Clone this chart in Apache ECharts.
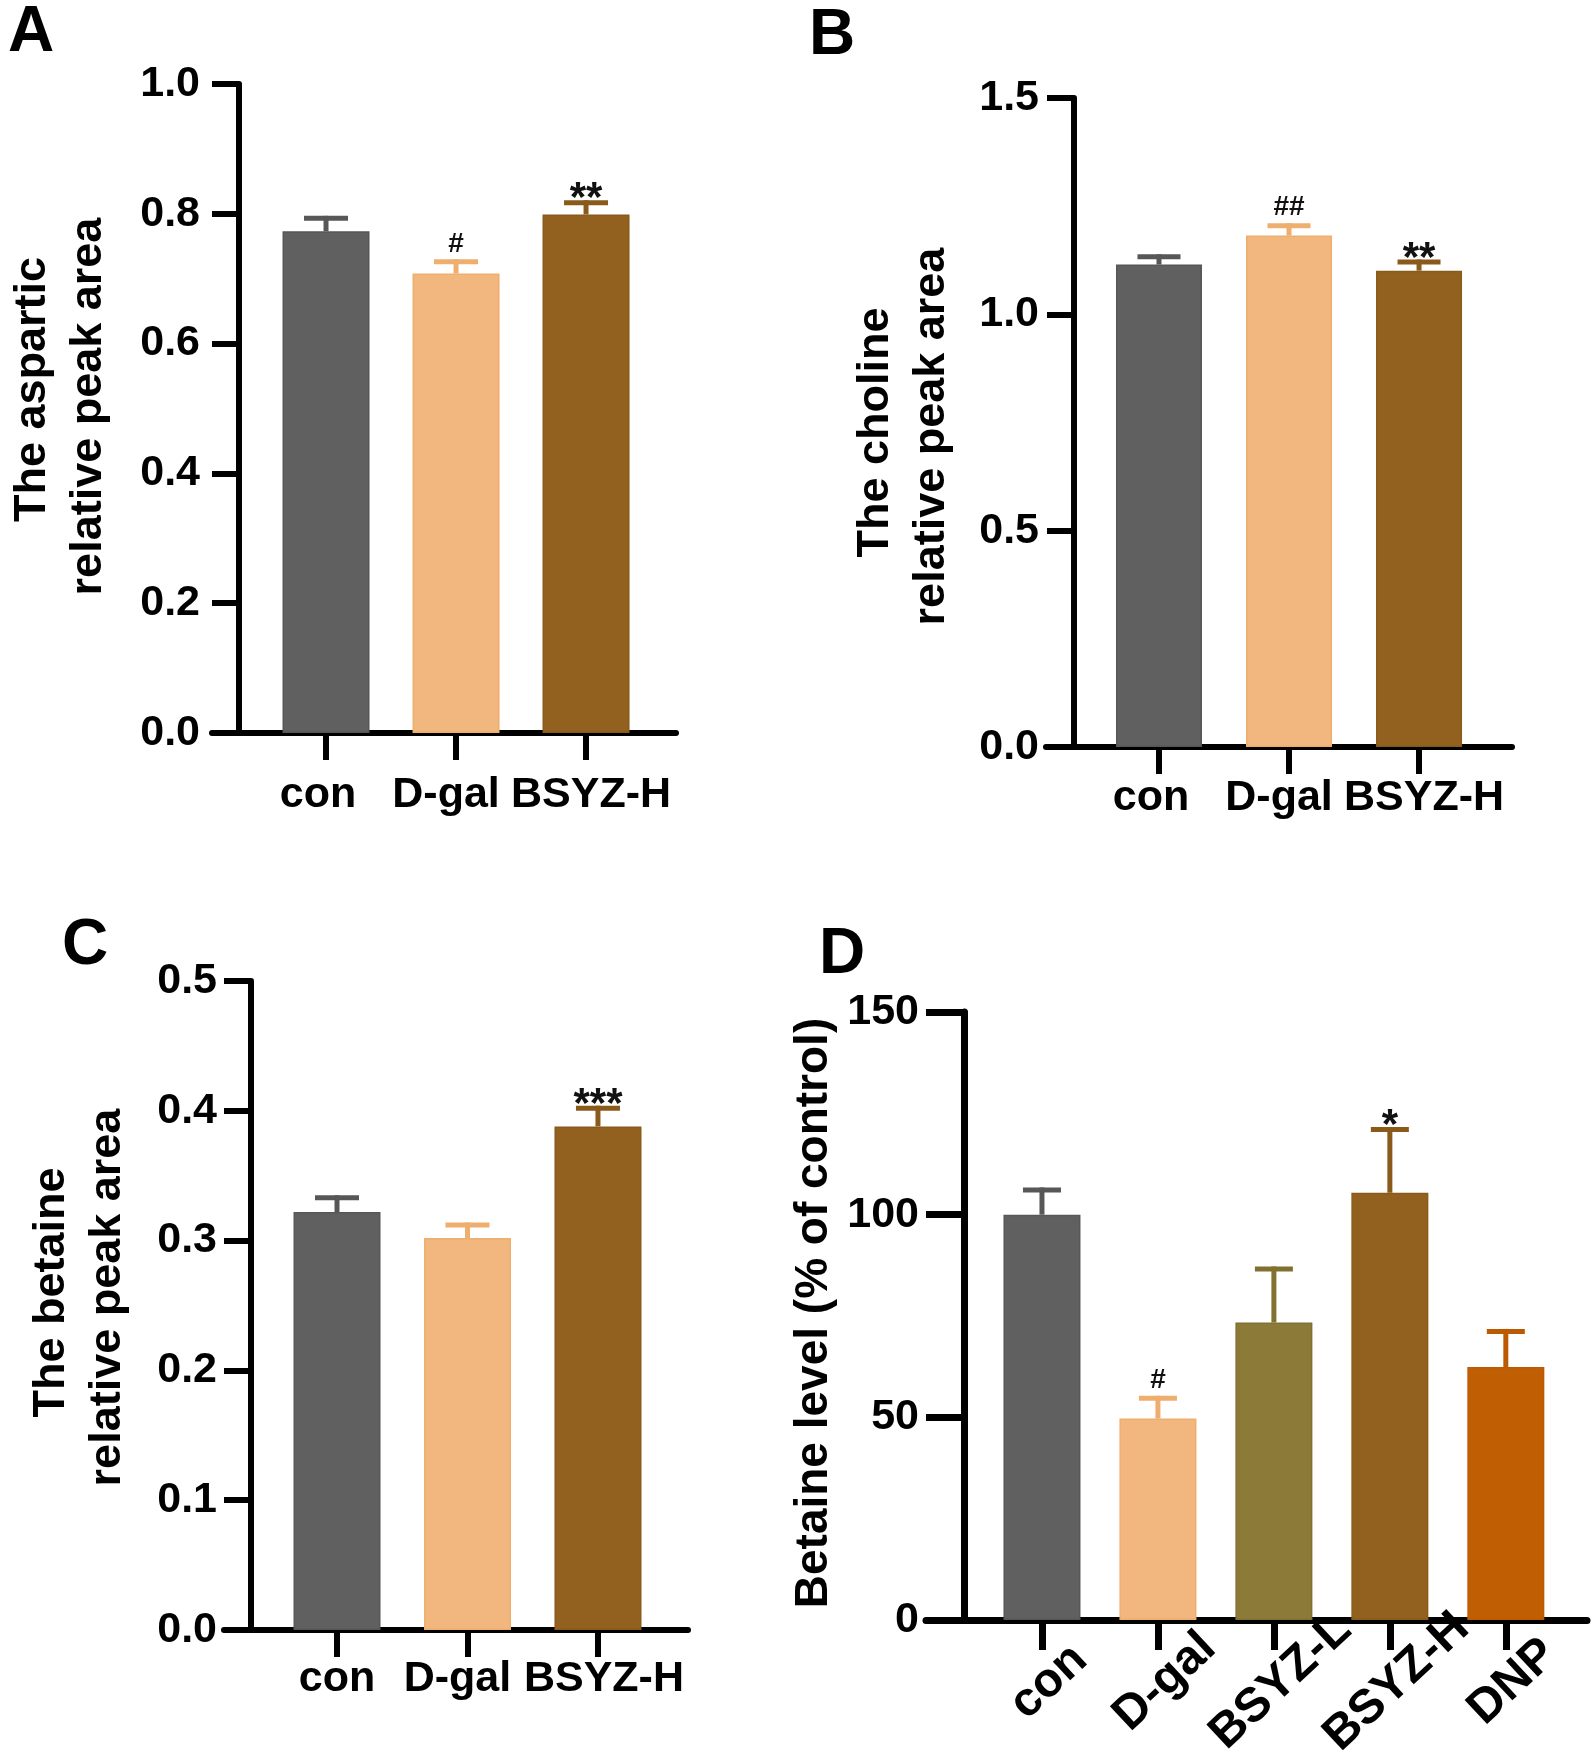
<!DOCTYPE html>
<html><head><meta charset="utf-8">
<script src="https://cdn.jsdelivr.net/npm/echarts@6/dist/echarts.min.js"></script>
<style>html,body{margin:0;padding:0;background:#fff}#c{width:1594px;height:1750px}</style>
</head><body><div id="c"></div>
<script>
// ---------- data ----------
const catsA = ['con', 'D-gal', 'BSYZ-H'];
const valsA = [0.773, 0.708, 0.799];
const errA  = [0.020, 0.018, 0.018];
const sigA  = ['', '#', '**'];
const yTicksA = ['0.0', '0.2', '0.4', '0.6', '0.8', '1.0'];
const titleA = 'The aspartic\nrelative peak area';

const catsB = ['con', 'D-gal', 'BSYZ-H'];
const valsB = [1.115, 1.182, 1.101];
const errB  = [0.018, 0.023, 0.020];
const sigB  = ['', '##', '**'];
const yTicksB = ['0.0', '0.5', '1.0', '1.5'];
const titleB = 'The choline\nrelative peak area';

const catsC = ['con', 'D-gal', 'BSYZ-H'];
const valsC = [0.322, 0.302, 0.388];
const errC  = [0.011, 0.010, 0.014];
const sigC  = ['', '', '***'];
const yTicksC = ['0.0', '0.1', '0.2', '0.3', '0.4', '0.5'];
const titleC = 'The betaine\nrelative peak area';

const catsD = ['con', 'D-gal', 'BSYZ-L', 'BSYZ-H', 'DNP'];
const valsD = [100, 49.7, 73.4, 105.4, 62.4];
const errD  = [6.1, 5.0, 13.2, 15.6, 8.8];
const sigD  = ['', '#', '', '*', ''];
const yTicksD = ['0', '50', '100', '150'];
const titleD = 'Betaine level (% of control)';

// ---------- styles ----------
const barColors = {'con': '#606060', 'D-gal': '#F1B77E', 'BSYZ-L': '#8C7A38', 'BSYZ-H': '#93611F', 'DNP': '#C05E04'};
const errColors = {'con': '#575757', 'D-gal': '#EEAE6E', 'BSYZ-L': '#827030', 'BSYZ-H': '#8A5A1A', 'DNP': '#BC5A02'};
const FONT = "'Liberation Sans', Arial, Helvetica, sans-serif";

const panels = [
  {letter: 'A', lx: 8, ly: 1, cats: catsA, vals: valsA, errs: errA, sig: sigA, ticks: yTicksA, title: titleA,
   grid: {left: 212, top: 84, width: 464, height: 649}, xr: [-0.877, 2.692], yOff: 27, lineW: 6, tickLen: 27,
   yMargin: 39, nameGap: 122, nameSize: 45, nameShift: [19, 2], barW: 87, capW: 44, rot: 0, xMargin: 41, xTick: 27, xFont: 43,
   shift: [-8, -10, 5], lblOff: 0},
  {letter: 'B', lx: 809, ly: 4, cats: catsB, vals: valsB, errs: errB, sig: sigB, ticks: yTicksB, title: titleB,
   grid: {left: 1046, top: 98, width: 466, height: 649}, xr: [-0.869, 2.715], yOff: 28, lineW: 6, tickLen: 27,
   yMargin: 35, nameGap: 114, nameSize: 45, nameShift: [-10, -14], barW: 86, capW: 43, rot: 0, xMargin: 30, xTick: 27, xFont: 43,
   shift: [-8, -10, 5], lblOff: 0},
  {letter: 'C', lx: 62, ly: 914, cats: catsC, vals: valsC, errs: errC, sig: sigC, ticks: yTicksC, title: titleC,
   grid: {left: 224, top: 981, width: 464, height: 649}, xr: [-0.866, 2.69], yOff: 27, lineW: 6, tickLen: 27,
   yMargin: 34, nameGap: 115, nameSize: 45, nameShift: [13, 8], barW: 87, capW: 44, rot: 0, xMargin: 28, xTick: 27, xFont: 43,
   shift: [0, -10, 6], lblOff: 0},
  {letter: 'D', lx: 819, ly: 923, cats: catsD, vals: valsD, errs: errD, sig: sigD, ticks: yTicksD, title: titleD,
   grid: {left: 926, top: 1012, width: 661, height: 608}, xr: [-1.0, 4.7], yOff: 38, lineW: 7, tickLen: 38,
   yMargin: 45, nameGap: 122, nameSize: 46, nameShift: [3], barW: 77, capW: 38, rot: 43, xMargin: 62, xTick: 30, xFont: 48,
   shift: [0, 0, 0, 0, 0], lblOff: 0.06}
];

const option = {
  animation: false,
  backgroundColor: '#fff',
  grid: [], xAxis: [], yAxis: [], series: [],
  graphic: []
};

panels.forEach((p, k) => {
  const yMin = parseFloat(p.ticks[0]);
  const yMax = parseFloat(p.ticks[p.ticks.length - 1]);
  const yInt = parseFloat(p.ticks[1]) - yMin;
  const idx = p.cats.map((c, i) => i);
  const rich = {};
  p.shift.forEach((s, i) => {
    rich['s' + i] = {
      fontSize: p.xFont, fontWeight: 'bold', fontFamily: FONT, color: '#000',
      padding: s < 0 ? [0, -2 * s, 0, 0] : [0, 0, 0, 2 * s]
    };
  });

  // y-axis title, one rich style per line (shift along the axis)
  const titleLines = p.title.split('\n');
  const nameRich = {};
  titleLines.forEach((t, j) => {
    const u = p.nameShift[j] || 0;
    nameRich['l' + j] = {
      fontSize: p.nameSize, fontWeight: 'bold', fontFamily: FONT, color: '#000', lineHeight: 56,
      padding: u > 0 ? [0, 0, 0, 2 * u] : [0, -2 * u, 0, 0]
    };
  });
  const nameText = titleLines.map((t, j) => '{l' + j + '|' + t + '}').join('\n');

  option.grid.push(Object.assign({outerBoundsMode: 'none', containLabel: false}, p.grid));

  const xLabel = {
    show: true, customValues: idx.map(i => i + p.lblOff), margin: p.xMargin, rotate: p.rot,
    fontSize: p.xFont, fontWeight: 'bold', fontFamily: FONT, color: '#000',
    formatter: v => {
      const i = Math.round(v - p.lblOff);
      return p.rot ? p.cats[i] : '{s' + i + '|' + p.cats[i] + '}';
    },
    rich: rich
  };
  if (p.rot) { xLabel.align = 'center'; xLabel.verticalAlign = 'middle'; }

  option.xAxis.push({
    gridIndex: k, type: 'value', min: p.xr[0], max: p.xr[1],
    axisLine: {show: true, onZero: false, lineStyle: {color: '#000', width: p.lineW}},
    axisTick: {show: true, customValues: idx, length: p.xTick, lineStyle: {color: '#000', width: p.lineW}},
    axisLabel: xLabel,
    splitLine: {show: false}
  });

  option.yAxis.push({
    gridIndex: k, type: 'value', min: yMin, max: yMax, interval: yInt, offset: -p.yOff,
    axisLine: {show: true, onZero: false, lineStyle: {color: '#000', width: p.lineW}},
    axisTick: {show: true, length: p.tickLen, lineStyle: {color: '#000', width: p.lineW}},
    axisLabel: {
      margin: p.yMargin, fontSize: 43, fontWeight: 'bold', fontFamily: FONT, color: '#000',
      formatter: v => p.ticks[Math.round((v - yMin) / yInt)]
    },
    splitLine: {show: false},
    name: nameText, nameLocation: 'middle', nameGap: p.nameGap,
    nameTextStyle: {fontSize: p.nameSize, fontWeight: 'bold', fontFamily: FONT, color: '#000', lineHeight: 56, rich: nameRich}
  });

  option.series.push({
    type: 'bar', xAxisIndex: k, yAxisIndex: k, barWidth: p.barW,
    data: p.vals.map((v, i) => ({
      value: [i, v],
      itemStyle: {color: barColors[p.cats[i]], borderColor: errColors[p.cats[i]], borderWidth: 1.5}
    })),
    z: 2
  });

  option.series.push({
    type: 'custom', xAxisIndex: k, yAxisIndex: k, z: 5,
    data: p.vals.map((v, i) => [i, v, p.errs[i]]),
    renderItem: (params, api) => {
      const i = api.value(0), v = api.value(1), e = api.value(2);
      const p0 = api.coord([i, v]);
      const p1 = api.coord([i, v + e]);
      const col = errColors[p.cats[i]];
      const h = p.capW / 2;
      const lw = 5;
      const ch = [
        {type: 'line', shape: {x1: p0[0], y1: p0[1], x2: p1[0], y2: p1[1] - lw / 2}, style: {stroke: col, lineWidth: lw}},
        {type: 'line', shape: {x1: p1[0] - h, y1: p1[1], x2: p1[0] + h, y2: p1[1]}, style: {stroke: col, lineWidth: lw}}
      ];
      const s = p.sig[i];
      if (s) {
        const star = s.indexOf('*') >= 0;
        ch.push({type: 'text', style: {
          x: p1[0], y: p1[1] - (star ? 3 : 18), text: s, fill: '#111',
          font: 'bold ' + (star ? 42 : 28) + 'px ' + FONT, align: 'center', verticalAlign: 'middle'
        }});
      }
      return {type: 'group', children: ch};
    }
  });

  option.graphic.push({
    type: 'text', left: p.lx, top: p.ly,
    style: {text: p.letter, font: 'bold 64px ' + FONT, fill: '#000'}
  });
});

const chart = echarts.init(document.getElementById('c'), null, {renderer: 'canvas'});
chart.setOption(option);
</script>
</body></html>
